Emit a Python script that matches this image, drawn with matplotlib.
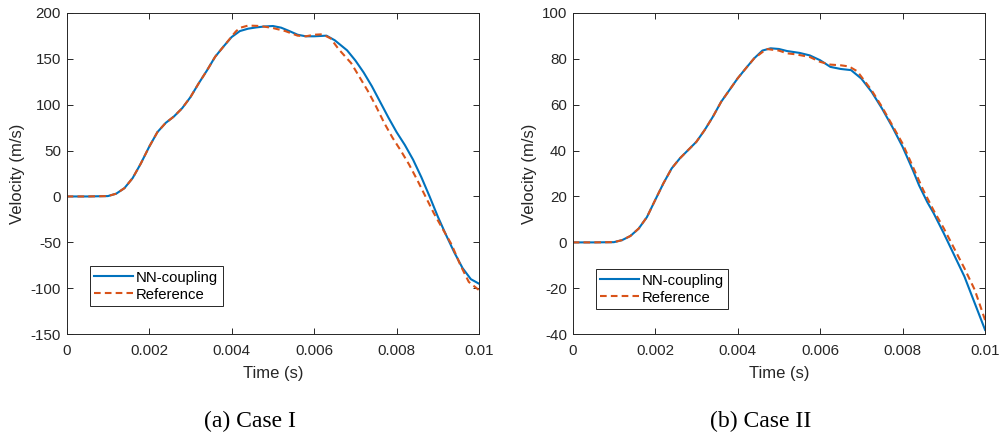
import matplotlib
matplotlib.use('Agg')
import matplotlib.pyplot as plt

plt.rcParams['font.family'] = ['Liberation Sans', 'DejaVu Sans']
plt.rcParams['axes.unicode_minus'] = False

# Case I
t1_nn = [0, 0.0005, 0.001, 0.0012, 0.0014, 0.0016, 0.0018, 0.002, 0.0022, 0.0024, 0.0026, 0.0028,
         0.003, 0.0032, 0.0034, 0.0036, 0.0038, 0.004, 0.0042, 0.0044, 0.0046, 0.0048, 0.005, 0.0052,
         0.0054, 0.0056, 0.0058, 0.006, 0.0063, 0.0065, 0.0068, 0.007, 0.0072, 0.0074, 0.0076, 0.0078,
         0.008, 0.0082, 0.0084, 0.0086, 0.0088, 0.009, 0.0092, 0.0094, 0.0096, 0.0098, 0.01]
v1_nn = [0, 0, 0.4, 3, 9, 20, 36, 54, 70, 80, 87, 96,
         108, 123, 137, 152, 163, 173.5, 180, 182.6, 184, 185, 185.5, 183.7,
         180, 176, 174.3, 174.3, 175, 170, 159, 148, 135, 120, 103, 86,
         70, 56, 40, 21, 0, -22, -42, -61, -78, -90, -95]

t1_ref = [0, 0.0005, 0.001, 0.0012, 0.0014, 0.0016, 0.0018, 0.002, 0.0022, 0.0024, 0.0026, 0.0028,
          0.003, 0.0032, 0.0034, 0.0036, 0.0038, 0.004, 0.0041, 0.0042, 0.0044, 0.0047, 0.005, 0.0053,
          0.0056, 0.0058, 0.006, 0.0062, 0.0064, 0.0066, 0.0069, 0.0071, 0.0073, 0.00748, 0.0077, 0.0079,
          0.0081, 0.0083, 0.0085, 0.0087, 0.0089, 0.0091, 0.00933, 0.00955, 0.00975, 0.01]
v1_ref = [0, 0, 0.4, 3, 9, 20, 36, 54, 70, 80, 87, 96,
          108, 123, 137, 152, 163, 174, 179.5, 183.5, 186, 185.5, 183.3, 180,
          175, 174.3, 176, 176.5, 172, 160, 145, 130, 115, 100, 80, 64,
          50, 35, 18, 0, -18, -34, -52, -75, -93, -102]

# Case II
t2_nn = [0, 0.0005, 0.001, 0.0012, 0.0014, 0.0016, 0.0018, 0.002, 0.0022, 0.0024, 0.0026, 0.0028,
         0.003, 0.0032, 0.0034, 0.0036, 0.0038, 0.004, 0.0042, 0.0044, 0.0046, 0.0048, 0.005, 0.0052,
         0.0055, 0.00575, 0.006, 0.00625, 0.0065, 0.00675, 0.007, 0.00725, 0.0075, 0.00775, 0.008,
         0.00825, 0.0084, 0.0086, 0.00875, 0.009, 0.00925, 0.0095, 0.00975, 0.01]
v2_nn = [0, 0, 0.1, 1, 2.8, 6, 11, 18.4, 25.7, 32.2, 36.6, 40.2,
         43.8, 48.9, 54.7, 61.2, 66.3, 71.4, 75.8, 80.1, 83.5, 84.5, 84.2, 83.3,
         82.5, 81.4, 79.3, 76.4, 75.5, 75, 71.3, 65.5, 58.3, 50.3, 41.6,
         31.4, 24.8, 17.5, 12.8, 3.9, -5.5, -14.9, -26.5, -38.1]

t2_ref = [0, 0.0005, 0.001, 0.0012, 0.0014, 0.0016, 0.0018, 0.002, 0.0022, 0.0024, 0.0026, 0.0028,
          0.003, 0.0032, 0.0034, 0.0036, 0.0038, 0.004, 0.0042, 0.0044, 0.0047, 0.005, 0.0052,
          0.0054, 0.00575, 0.006, 0.00625, 0.0065, 0.0067, 0.0069, 0.00725, 0.0075, 0.00775, 0.008,
          0.00825, 0.0085, 0.00875, 0.009, 0.00925, 0.0095, 0.00975, 0.01]
v2_ref = [0, 0, 0.1, 1, 2.8, 6, 11, 18.4, 25.7, 32.2, 36.6, 40.2,
          43.8, 48.9, 54.7, 61.2, 66.3, 71.4, 75.8, 80.1, 84.2, 83.5, 82.3,
          81.9, 80.7, 78.6, 77.4, 77.1, 76.6, 74.5, 66.2, 59, 51, 43,
          32.9, 22.8, 14, 6.1, -2.6, -11.3, -20.7, -33.8]

x_ticks = [0, 0.002, 0.004, 0.006, 0.008, 0.01]
x_ticklabels = ['0', '0.002', '0.004', '0.006', '0.008', '0.01']
y1_ticks = [-150, -100, -50, 0, 50, 100, 150, 200]
y2_ticks = [-40, -20, 0, 20, 40, 60, 80, 100]
captions = ['(a) Case I', '(b) Case II']

blue = '#0072BD'
orange = '#D95319'
dark = '#262626'

fig = plt.figure(figsize=(10.01, 4.36), dpi=100)
ax1 = fig.add_axes([0.0666, 0.2333, 0.412, 0.7376])
ax2 = fig.add_axes([0.5721, 0.2333, 0.412, 0.7376])

panels = [
    (ax1, t1_nn, v1_nn, t1_ref, v1_ref, y1_ticks, -0.101, 0.0565, 0.088),
    (ax2, t2_nn, v2_nn, t2_ref, v2_ref, y2_ticks, -0.086, 0.0558, 0.0787),
]

for ax, tn, vn, tr, vr, yt, ylab_x, lx, ly in panels:
    ax.plot(tn, vn, color=blue, lw=1.5, label='NN-coupling')
    ax.plot(tr, vr, color=orange, lw=1.5, ls='--', dashes=(3.2, 2.0), label='Reference')
    ax.set_xlim(0, 0.01)
    ax.set_ylim(yt[0], yt[-1])
    ax.set_xticks(x_ticks)
    ax.set_xticklabels(x_ticklabels)
    ax.set_yticks(yt)
    ax.tick_params(direction='in', top=True, right=True, length=4, width=0.7,
                   color=dark, labelcolor=dark, labelsize=10.9)
    ax.tick_params(axis='x', pad=7)
    ax.tick_params(axis='y', pad=4)
    for s in ax.spines.values():
        s.set_color(dark)
        s.set_linewidth(0.7)
    ax.set_xlabel('Time (s)', fontsize=12, color=dark)
    ax.set_ylabel('Velocity (m/s)', fontsize=12, color=dark)
    ax.xaxis.set_label_coords(0.5, -0.10)
    ax.yaxis.set_label_coords(ylab_x, 0.5)
    leg = ax.legend(loc='lower left', bbox_to_anchor=(lx, ly), fontsize=10.7, fancybox=False,
                    framealpha=1, edgecolor=dark, handlelength=2.6, handletextpad=0.2,
                    borderpad=0.3, labelspacing=0.2, borderaxespad=0)
    leg.get_frame().set_linewidth(0.7)

fig.text(0.25, 0.033, captions[0], ha='center', va='center', fontsize=17,
         family='Liberation Serif')
fig.text(0.760, 0.033, captions[1], ha='center', va='center', fontsize=17,
         family='Liberation Serif')

fig.savefig('out.png', dpi=100)
